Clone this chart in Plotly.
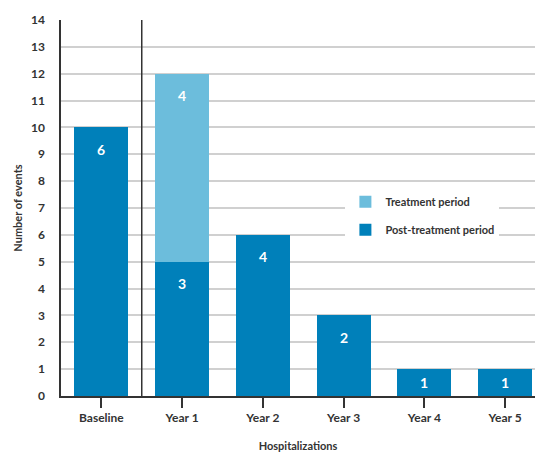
import plotly.graph_objects as go

categories = ["Baseline", "Year 1", "Year 2", "Year 3", "Year 4", "Year 5"]
post_values = [10, 5, 6, 3, 1, 1]
post_labels = ["6", "3", "4", "2", "1", "1"]
treat_values = [0, 7, 0, 0, 0, 0]
treat_labels = ["", "4", "", "", "", ""]
y_ticks = list(range(0, 15))

DARK = "#0080BA"
LIGHT = "#6CBDDC"
TXT = "#333333"
FONT = "Lato"

xpos = list(range(len(categories)))

fig = go.Figure()
fig.add_trace(go.Bar(x=xpos, y=post_values, name="Post-treatment period",
                     marker=dict(color=DARK, line=dict(width=0)), width=0.67,
                     legendgroup="b", legendrank=2, hoverinfo="skip"))
fig.add_trace(go.Bar(x=xpos, y=treat_values, name="Treatment period",
                     marker=dict(color=LIGHT, line=dict(width=0)), width=0.67,
                     legendgroup="a", legendrank=1, hoverinfo="skip"))


def add_label(i, base, value, text):
    if not text:
        return
    if value >= 2:
        y, shift = base + value, -22
    else:
        y, shift = base + value / 2, 0
    fig.add_annotation(x=i, y=y, text=text, showarrow=False, yshift=shift,
                       font=dict(family=FONT, size=14, color="white", weight="bold"))


for i in xpos:
    add_label(i, 0, post_values[i], post_labels[i])
    add_label(i, post_values[i], treat_values[i], treat_labels[i])

# separator between baseline and year 1
fig.add_shape(type="line", xref="x", yref="paper", x0=0.5, x1=0.5, y0=0, y1=1,
              line=dict(color=TXT, width=1.5), layer="above")

fig.update_layout(
    width=535, height=453,
    margin=dict(l=61, r=0, t=20, b=57),
    barmode="stack",
    plot_bgcolor="white", paper_bgcolor="white",
    font=dict(family=FONT, color=TXT),
    legend=dict(x=0.6, y=0.555, xanchor="left", yanchor="top",
                bgcolor="white", traceorder="grouped", tracegroupgap=9,
                font=dict(family=FONT, size=11, color=TXT, weight="bold")),
    xaxis=dict(range=[-0.5, 5.37], tickmode="array", tickvals=xpos, ticktext=categories,
               automargin=False,
               showgrid=False, showline=True, linecolor=TXT, linewidth=1.5,
               ticks="outside", ticklen=10, tickwidth=1.5, tickcolor=TXT,
               tickfont=dict(family=FONT, size=12, color=TXT, weight="bold"),
               title=dict(text="Hospitalizations", standoff=18,
                          font=dict(family=FONT, size=11, color=TXT, weight="bold")),
               zeroline=False),
    yaxis=dict(range=[0, 14], tickmode="array", tickvals=y_ticks, automargin=False,
               showgrid=True, gridcolor="#d0d0d0", gridwidth=1.5,
               showline=True, linecolor=TXT, linewidth=1.5, zeroline=False,
               ticks="", ticklabelstandoff=12,
               tickfont=dict(family=FONT, size=12, color=TXT, weight="bold"),
               title=dict(text="Number of events", standoff=6,
                          font=dict(family=FONT, size=11, color=TXT, weight="bold"))),
)

fig.write_html("out.html", config={"displayModeBar": False},
               post_script="document.body.style.margin='0';")
